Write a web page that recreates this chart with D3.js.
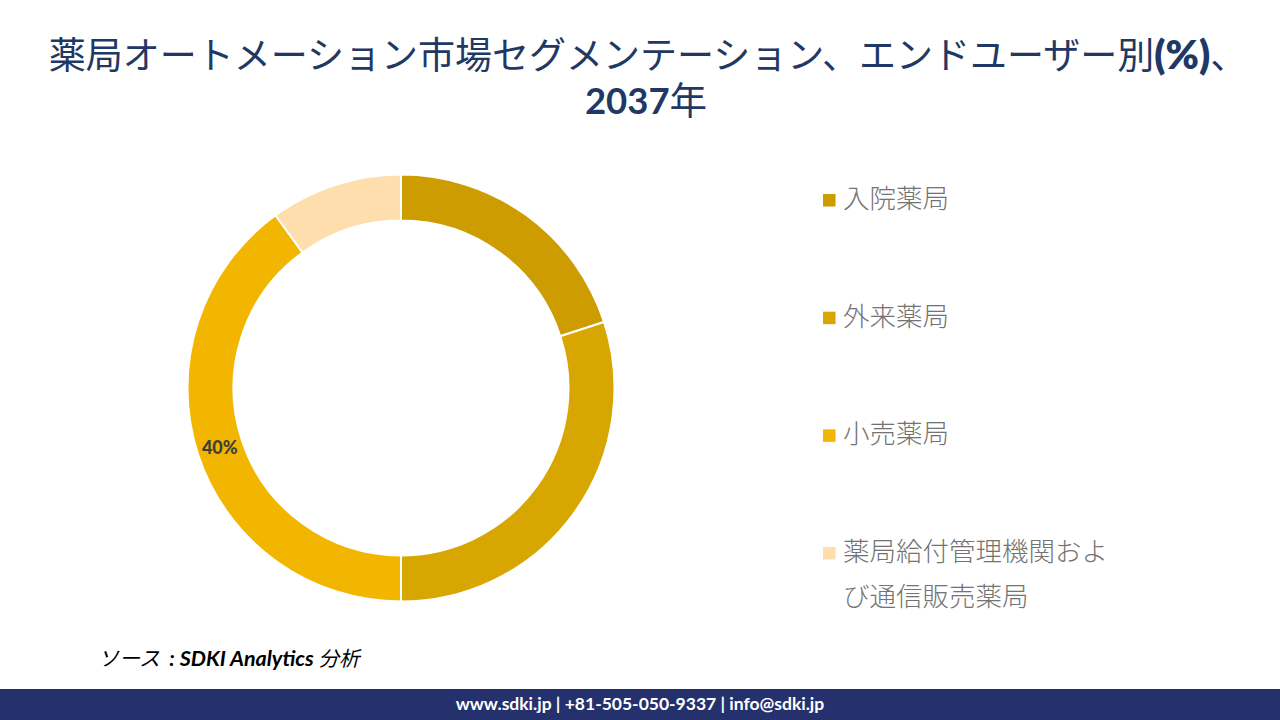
<!DOCTYPE html>
<html lang="ja"><head><meta charset="utf-8">
<script src="https://cdn.jsdelivr.net/npm/d3@7"></script>
<style>html,body{margin:0;padding:0;background:#fff;overflow:hidden}svg{display:block}</style>
</head><body><div id="chart"></div>
<script>
const categories = ["入院薬局","外来薬局","小売薬局","薬局給付管理機関および通信販売薬局"];
const values = [20,30,40,10];
const colors = ["#CC9C00","#D8A600","#F2B600","#FFDEAD"];
const legendLines = [["入院薬局"],["外来薬局"],["小売薬局"],["薬局給付管理機関およ","び通信販売薬局"]];
const labelled = ["","","40%",""];
const titleLines = [[["薬局オートメーション市場セグメンテーション、エンドユーザー別",400,37],["(%)",800,40],["、",400,37]],[["2037",700,36.5],["年",400,37.5]]];
const sourceRuns = [["ソース",400,21],["  : SDKI Analytics ",700,21.5],["分析",400,20.5]];
const footerText = "www.sdki.jp | +81-505-050-9337 | info@sdki.jp";
const latin = "Lato, 'Noto Sans CJK JP', sans-serif";

const svg = d3.select("#chart").append("svg").attr("width",1280).attr("height",720);
svg.append("rect").attr("width",1280).attr("height",720).attr("fill","#fff");

const title = svg.append("g").attr("font-family",latin).attr("fill","#1F3864").attr("text-anchor","middle");
titleLines.forEach((runs,i)=>{
  const t = title.append("text").attr("x",[648,646][i]).attr("y",[69,114][i]);
  runs.forEach(r=>t.append("tspan").attr("font-weight",r[1]).attr("font-size",r[2]).text(r[0]));
});

const cx=401, cy=388, R=213.5, r=167.5;
const pie = d3.pie().sort(null).value(d=>d)(values);
const arc = d3.arc().innerRadius(r).outerRadius(R);
const ring = svg.append("g").attr("transform",`translate(${cx},${cy})`);
ring.selectAll("path").data(pie).join("path")
  .attr("d",arc).attr("fill",(d,i)=>colors[i]).attr("stroke","#fff").attr("stroke-width",2);
ring.selectAll("text").data(pie).join("text")
  .attr("transform",d=>`translate(${arc.centroid(d)})`)
  .attr("text-anchor","middle").attr("dominant-baseline","central")
  .attr("font-family",latin).attr("font-weight",900).attr("font-size",18).attr("fill","#404040")
  .text((d,i)=>labelled[i]);

const ly = d3.scalePoint().domain(categories).range([199,552]);
const leg = svg.append("g").attr("font-family","'Noto Sans CJK JP', sans-serif").attr("font-weight",300).attr("fill","#737373").attr("font-size",26.5);
categories.forEach((c,i)=>{
  const y = ly(c);
  leg.append("rect").attr("x",823).attr("y",y-5).attr("width",12.5).attr("height",12.5).attr("fill",colors[i]);
  legendLines[i].forEach((s,j)=>leg.append("text").attr("x",843).attr("y",y+9+j*45).text(s));
});

const src = svg.append("text").attr("x",98).attr("y",666).attr("font-family",latin)
  .attr("font-style","italic").attr("fill","#000").attr("xml:space","preserve").style("white-space","pre");
sourceRuns.forEach(r=>src.append("tspan").attr("font-weight",r[1]).attr("font-size",r[2]).text(r[0]));

svg.append("rect").attr("x",0).attr("y",689).attr("width",1280).attr("height",31).attr("fill","#25316D");
svg.append("text").attr("x",640).attr("y",710).attr("text-anchor","middle").attr("font-family",latin)
  .attr("font-size",17.5).attr("font-weight",700).attr("fill","#fff").text(footerText);
</script></body></html>
